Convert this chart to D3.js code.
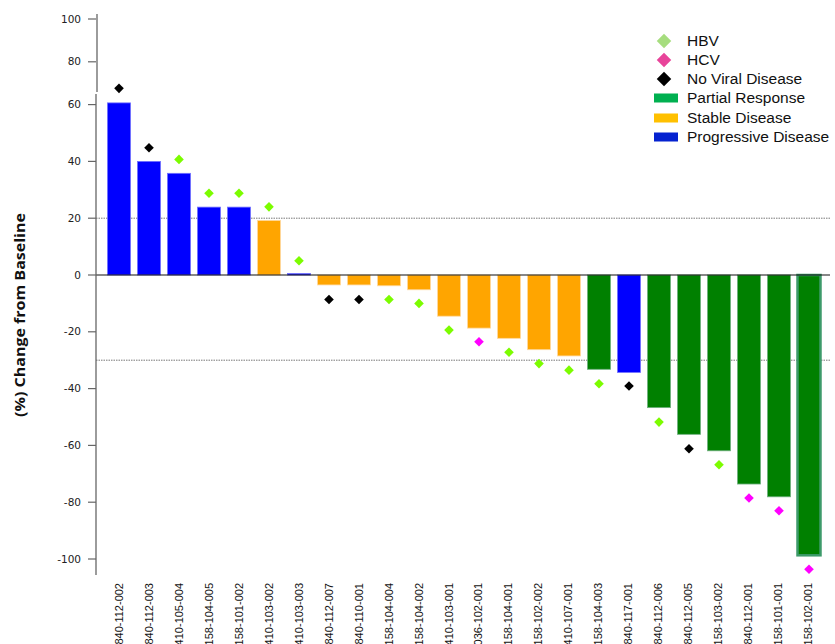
<!DOCTYPE html>
<html><head><meta charset="utf-8">
<script src="https://cdn.jsdelivr.net/npm/d3@7"></script>
<style>body{margin:0;background:#fff}svg{display:block}</style>
</head><body>
<svg id="chart" width="835" height="644"></svg>
<script>
const categories = ["840-112-002","840-112-003","410-105-004","158-104-005","158-101-002","410-103-002","410-103-003","840-112-007","840-110-001","158-104-004","158-104-002","410-103-001","036-102-001","158-104-001","158-102-002","410-107-001","158-104-003","840-117-001","840-112-006","840-112-005","158-103-002","840-112-001","158-101-001","158-102-001"];
const values = [60.8,40.0,35.8,23.9,23.9,19.2,0.5,-3.5,-3.5,-3.8,-5.2,-14.5,-18.7,-22.3,-26.3,-28.5,-33.2,-34.3,-46.7,-56.1,-61.9,-73.6,-78.1,-98.7];
const response = ["PD","PD","PD","PD","PD","SD","PD","SD","SD","SD","SD","SD","SD","SD","SD","SD","PR","PD","PR","PR","PR","PR","PR","PR"];
const viral = ["None","None","HBV","HBV","HBV","HBV","HBV","None","None","HBV","HBV","HBV","HCV","HBV","HBV","HBV","HBV","None","HBV","None","HBV","HCV","HCV","HCV"];
const markerValues = [67.6,44.8,40.7,28.8,28.8,24.0,5.0,-8.6,-8.6,-8.6,-10.0,-19.4,-23.5,-27.2,-31.2,-33.5,-38.3,-39.1,-51.8,-61.2,-66.8,-78.5,-83.0,-103.6];
const yTicks = [-100,-80,-60,-40,-20,0,20,40,60,80,100];
const refLines = [20,-30];
const legendItems = [
  {label:"HBV", type:"diamond", color:"#a6dd7e"},
  {label:"HCV", type:"diamond", color:"#e8449a"},
  {label:"No Viral Disease", type:"diamond", color:"#000000"},
  {label:"Partial Response", type:"rect", color:"#00b050"},
  {label:"Stable Disease", type:"rect", color:"#ffc000"},
  {label:"Progressive Disease", type:"rect", color:"#0522d0"}
];

const barColor = {PD:"#0000ff", SD:"#ffa500", PR:"#008000"};
const barStroke = {PD:"#7070ff", SD:"#ffd9a0", PR:"#6fb07f"};
const markerColor = {HBV:"#7cfc00", HCV:"#ff00ff", None:"#000000"};

const svg = d3.select("#chart");
const x = d3.scaleBand().domain(categories).range([104, 824]).paddingInner(0.2333).paddingOuter(0.1167);
const y = d3.scaleLinear().domain([-100, 0, 60, 100]).range([559, 275, 104.6, 19]);

const axisX = 96;
svg.selectAll("line.ref").data(refLines).enter().append("line")
  .attr("x1", axisX).attr("x2", 830)
  .attr("y1", d => y(d)).attr("y2", d => y(d))
  .attr("stroke", "#777").attr("stroke-width", 1).attr("stroke-dasharray", "1.5,1");

svg.selectAll("rect.bar").data(values).enter().append("rect")
  .attr("x", (d,i) => x(categories[i]))
  .attr("width", x.bandwidth())
  .attr("y", d => Math.min(y(d), y(0)))
  .attr("height", d => Math.abs(y(d) - y(0)))
  .attr("fill", (d,i) => barColor[response[i]])
  .attr("stroke", (d,i) => i === values.length-1 ? "#3d9a6a" : barStroke[response[i]])
  .attr("stroke-width", (d,i) => i === values.length-1 ? 2.5 : 0.8);

svg.append("line").attr("x1", axisX).attr("x2", 830).attr("y1", y(0)).attr("y2", y(0))
  .attr("stroke", "#111").attr("stroke-width", 1.2);

const dsym = d3.symbol().type(d3.symbolSquare).size(46);
svg.selectAll("path.mk").data(markerValues).enter().append("path")
  .attr("d", dsym)
  .attr("transform", (d,i) => `translate(${x(categories[i]) + x.bandwidth()/2},${y(d)}) rotate(45)`)
  .attr("fill", (d,i) => markerColor[viral[i]]);

svg.append("line").attr("x1", 97).attr("x2", 97).attr("y1", 14).attr("y2", 92)
  .attr("stroke", "#666").attr("stroke-width", 1.3);
svg.append("line").attr("x1", axisX).attr("x2", axisX).attr("y1", 94).attr("y2", 575)
  .attr("stroke", "#666").attr("stroke-width", 1.3);
const tg = svg.append("g");
tg.selectAll("line").data(yTicks).enter().append("line")
  .attr("x1", 88).attr("x2", axisX).attr("y1", d => y(d)).attr("y2", d => y(d))
  .attr("stroke", "#666").attr("stroke-width", 1.2);
tg.selectAll("text").data(yTicks).enter().append("text")
  .attr("x", 81).attr("y", d => y(d)).attr("dy", "0.35em")
  .attr("text-anchor", "end").attr("font-family", "DejaVu Sans, Verdana, sans-serif")
  .attr("font-size", 10.5).attr("fill", "#222").text(d => d);

svg.selectAll("text.xl").data(categories).enter().append("text")
  .attr("transform", d => `translate(${x(d) + x.bandwidth()/2 + 3.5},583) rotate(-90)`)
  .attr("text-anchor", "end").attr("font-family", "Liberation Sans Narrow, Liberation Sans, Arial, sans-serif")
  .attr("font-size", 11).attr("fill", "#111").text(d => d);

svg.append("text").attr("transform", "translate(25,315) rotate(-90)")
  .attr("text-anchor", "middle").attr("font-family", "Open Sans, sans-serif")
  .attr("font-weight", "bold").attr("font-size", 14.5).attr("fill", "#111")
  .attr("textLength", 204).attr("lengthAdjust", "spacingAndGlyphs")
  .text("(%) Change from Baseline");

const lg = svg.append("g");
const rowY = [41, 60, 79, 98, 118, 137];
legendItems.forEach((it, i) => {
  const cy = rowY[i];
  if (it.type === "diamond") {
    lg.append("path").attr("d", d3.symbol().type(d3.symbolSquare).size(105)())
      .attr("transform", `translate(664,${cy}) rotate(45)`).attr("fill", it.color);
  } else {
    lg.append("rect").attr("x", 654).attr("y", cy - 4.5).attr("width", 24).attr("height", 9).attr("fill", it.color);
  }
  lg.append("text").attr("x", 687).attr("y", cy).attr("dy", "0.35em")
    .attr("font-family", "Liberation Sans, Arial, sans-serif").attr("font-size", 15.5).attr("fill", "#111")
    .text(it.label);
});
</script>
</body></html>
